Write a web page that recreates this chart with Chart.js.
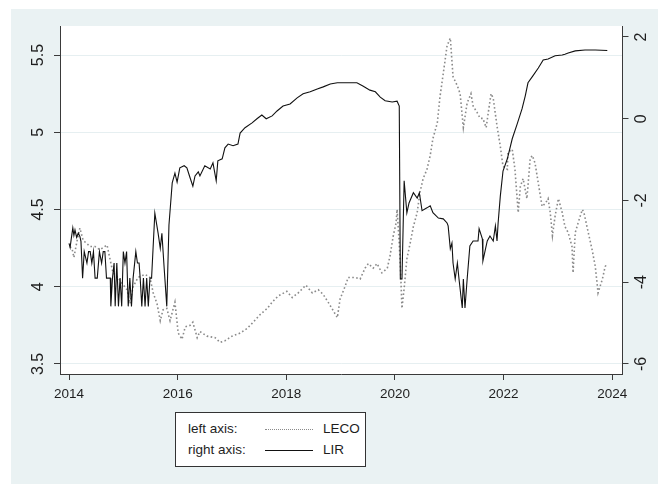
<!DOCTYPE html>
<html lang="en">
<head>
<meta charset="UTF-8">
<title>LECO and LIR</title>
<script src="https://cdn.jsdelivr.net/npm/chart.js@4.4.1/dist/chart.umd.min.js"></script>
<style>
  body { margin: 0; background: #fff; }
  #wrap { position: relative; width: 658px; height: 484px; }
  #legend {
    position: absolute; left: 175px; top: 412px; width: 189px; height: 53px;
    background: #fff; border: 1px solid #333;
    font: 13.5px "Liberation Sans", Arial, sans-serif; color: #1e1e1e;
  }
  #legend .row { position: absolute; left: 0; height: 18px; line-height: 18px; width: 100%; }
  #legend .lab { position: absolute; left: 12px; }
  #legend .key { position: absolute; left: 89px; width: 48px; top: 9px; }
  #legend .name { position: absolute; left: 147px; }
</style>
</head>
<body>
<div id="wrap">
  <canvas id="chart" width="658" height="484"></canvas>
  <div id="legend"></div>
</div>

<script>
// LIR - right axis (solid)
var lirYears = [2014.00, 2014.02, 2014.04, 2014.07, 2014.09, 2014.11, 2014.14, 2014.17, 2014.20, 2014.22,
  2014.25, 2014.28, 2014.33, 2014.36, 2014.39, 2014.42, 2014.45, 2014.48, 2014.52, 2014.56,
  2014.60, 2014.63, 2014.66, 2014.69, 2014.76, 2014.77, 2014.80, 2014.83, 2014.85, 2014.88,
  2014.91, 2014.94, 2014.97, 2015.00, 2015.03, 2015.06, 2015.09, 2015.12, 2015.15, 2015.18,
  2015.23, 2015.26, 2015.29, 2015.31, 2015.34, 2015.37, 2015.40, 2015.43, 2015.46, 2015.49,
  2015.52, 2015.58, 2015.64, 2015.68, 2015.71, 2015.75, 2015.80, 2015.84, 2015.90, 2015.95,
  2015.99, 2016.04, 2016.12, 2016.17, 2016.23, 2016.28, 2016.32, 2016.38, 2016.41, 2016.50,
  2016.60, 2016.65, 2016.71, 2016.74, 2016.82, 2016.87, 2016.93, 2017.02, 2017.11, 2017.15,
  2017.24, 2017.37, 2017.46, 2017.55, 2017.63, 2017.74, 2017.83, 2017.94, 2018.07, 2018.20,
  2018.31, 2018.44, 2018.57, 2018.68, 2018.81, 2018.94, 2019.12, 2019.30, 2019.41, 2019.54,
  2019.64, 2019.73, 2019.82, 2019.95, 2020.04, 2020.08, 2020.10, 2020.13, 2020.17, 2020.22,
  2020.26, 2020.34, 2020.41, 2020.45, 2020.50, 2020.59, 2020.65, 2020.70, 2020.80, 2020.89,
  2020.96, 2020.98, 2021.02, 2021.05, 2021.07, 2021.11, 2021.15, 2021.18, 2021.24, 2021.26,
  2021.29, 2021.33, 2021.38, 2021.44, 2021.53, 2021.55, 2021.61, 2021.62, 2021.70, 2021.75,
  2021.81, 2021.85, 2021.88, 2021.90, 2021.94, 2021.99, 2022.07, 2022.16, 2022.25, 2022.34,
  2022.40, 2022.45, 2022.54, 2022.64, 2022.73, 2022.82, 2022.95, 2023.08, 2023.13, 2023.19,
  2023.32, 2023.50, 2023.69, 2023.91];
var lirValues = [-3.05, -3.15, -2.95, -2.67, -2.85, -2.72, -2.90, -2.80, -2.88, -3.00,
  -3.90, -3.25, -3.53, -3.25, -3.25, -3.53, -3.25, -3.90, -3.90, -3.25,
  -3.53, -3.25, -3.25, -3.90, -3.90, -4.59, -3.90, -3.53, -4.59, -3.53,
  -4.59, -3.90, -4.59, -3.25, -3.53, -3.25, -4.59, -3.90, -4.59, -3.90,
  -3.25, -3.53, -3.53, -3.90, -4.59, -3.90, -4.59, -3.90, -4.59, -3.90,
  -3.90, -2.31, -2.80, -3.17, -2.80, -3.62, -4.59, -2.60, -1.57, -1.33,
  -1.55, -1.20, -1.15, -1.20, -1.45, -1.65, -1.40, -1.30, -1.40, -1.15,
  -1.23, -1.08, -1.52, -1.03, -0.98, -0.71, -0.62, -0.66, -0.62, -0.35,
  -0.22, -0.10, 0.00, 0.09, 0.00, 0.07, 0.19, 0.31, 0.36, 0.51,
  0.61, 0.66, 0.73, 0.78, 0.85, 0.88, 0.88, 0.88, 0.80, 0.70,
  0.66, 0.53, 0.44, 0.41, 0.43, 0.31, -3.92, -3.92, -1.52, -2.30,
  -2.06, -1.81, -1.94, -1.81, -2.25, -2.18, -2.13, -2.30, -2.43, -2.45,
  -2.55, -2.62, -3.18, -3.04, -3.53, -3.92, -3.53, -3.92, -4.63, -3.92,
  -4.63, -3.92, -3.11, -2.99, -2.99, -2.69, -2.94, -3.48, -2.99, -2.87,
  -2.99, -2.62, -2.99, -2.55, -1.90, -1.28, -0.98, -0.49, -0.13, 0.24,
  0.56, 0.88, 1.05, 1.24, 1.44, 1.46, 1.54, 1.56, 1.58, 1.61,
  1.66, 1.68, 1.68, 1.67];

// LECO - left axis (dotted)
var lecoYears = [2014.02, 2014.06, 2014.09, 2014.15, 2014.20, 2014.26, 2014.39, 2014.48, 2014.57, 2014.70,
  2014.76, 2014.81, 2014.90, 2014.98, 2015.07, 2015.12, 2015.18, 2015.27, 2015.40, 2015.49,
  2015.55, 2015.62, 2015.68, 2015.73, 2015.80, 2015.86, 2015.95, 2016.01, 2016.08, 2016.14,
  2016.23, 2016.28, 2016.36, 2016.41, 2016.54, 2016.69, 2016.78, 2016.87, 2017.00, 2017.15,
  2017.28, 2017.39, 2017.52, 2017.65, 2017.74, 2017.85, 2018.01, 2018.11, 2018.22, 2018.36,
  2018.48, 2018.59, 2018.68, 2018.77, 2018.84, 2018.94, 2018.99, 2019.08, 2019.14, 2019.27,
  2019.36, 2019.45, 2019.51, 2019.60, 2019.67, 2019.76, 2019.86, 2019.91, 2019.97, 2020.02,
  2020.04, 2020.08, 2020.11, 2020.13, 2020.17, 2020.22, 2020.28, 2020.34, 2020.41, 2020.46,
  2020.52, 2020.59, 2020.65, 2020.70, 2020.78, 2020.83, 2020.89, 2020.96, 2021.02, 2021.07,
  2021.15, 2021.20, 2021.26, 2021.33, 2021.40, 2021.44, 2021.51, 2021.57, 2021.62, 2021.68,
  2021.72, 2021.77, 2021.81, 2021.88, 2021.94, 2021.99, 2022.07, 2022.08, 2022.16, 2022.21,
  2022.27, 2022.31, 2022.36, 2022.43, 2022.49, 2022.53, 2022.58, 2022.64, 2022.71, 2022.77,
  2022.82, 2022.86, 2022.90, 2022.95, 2023.01, 2023.08, 2023.13, 2023.19, 2023.26, 2023.28,
  2023.32, 2023.37, 2023.45, 2023.48, 2023.56, 2023.63, 2023.69, 2023.74, 2023.82, 2023.87,
  2023.91];
var lecoValues = [4.26, 4.24, 4.19, 4.30, 4.38, 4.30, 4.26, 4.26, 4.24, 4.27,
  4.17, 4.09, 4.06, 4.02, 3.98, 3.89, 4.00, 4.06, 4.08, 4.06,
  3.96, 3.89, 3.78, 3.85, 3.86, 3.78, 3.90, 3.70, 3.66, 3.74,
  3.75, 3.77, 3.67, 3.71, 3.68, 3.67, 3.64, 3.65, 3.68, 3.70,
  3.73, 3.77, 3.82, 3.86, 3.90, 3.94, 3.97, 3.93, 3.96, 4.01,
  3.96, 3.98, 3.95, 3.90, 3.86, 3.80, 3.92, 4.00, 4.06, 4.06,
  4.05, 4.12, 4.15, 4.12, 4.15, 4.09, 4.12, 4.20, 4.33, 4.41,
  4.50, 4.28, 4.05, 3.86, 3.99, 4.18, 4.28, 4.39, 4.48, 4.61,
  4.70, 4.76, 4.85, 4.96, 5.06, 5.23, 5.38, 5.56, 5.61, 5.36,
  5.30, 5.25, 5.03, 5.19, 5.25, 5.17, 5.13, 5.09, 5.09, 5.03,
  5.13, 5.25, 5.22, 5.04, 4.91, 4.78, 4.76, 4.87, 4.89, 4.76,
  4.48, 4.65, 4.70, 4.57, 4.83, 4.85, 4.80, 4.67, 4.52, 4.54,
  4.57, 4.48, 4.33, 4.46, 4.57, 4.48, 4.39, 4.35, 4.26, 4.09,
  4.35, 4.41, 4.50, 4.48, 4.35, 4.24, 4.13, 3.96, 4.05, 4.13,
  4.15];

var xTicks = [2014, 2016, 2018, 2020, 2022, 2024];
var leftTicks = [3.5, 4, 4.5, 5, 5.5];
var rightTicks = [-6, -4, -2, 0, 2];

var fontFamily = '"Liberation Sans", Arial, sans-serif';
var axisColor = '#3a3a3a';
var textColor = '#1e1e1e';
var bgColor = '#eaf2f3';

function toPoints(xs, ys) {
  return xs.map(function (x, i) { return { x: x, y: ys[i] }; });
}

function fixedTicks(list) {
  return function (s) { s.ticks = list.map(function (v) { return { value: v }; }); };
}

// outer grey-blue panel, white plot region
var background = {
  id: 'background',
  beforeDraw: function (chart) {
    var ctx = chart.ctx, a = chart.chartArea;
    ctx.save();
    ctx.fillStyle = '#ffffff';
    ctx.fillRect(0, 0, chart.width, chart.height);
    ctx.fillStyle = bgColor;
    ctx.fillRect(11, 9, chart.width - 11, chart.height - 9);
    ctx.fillStyle = '#ffffff';
    ctx.fillRect(a.left, a.top, a.right - a.left, a.bottom - a.top);
    ctx.restore();
  }
};

var chart = new Chart(document.getElementById('chart').getContext('2d'), {
  type: 'line',
  data: {
    datasets: [
      {
        label: 'LECO',
        axisLabel: 'left axis:',
        data: toPoints(lecoYears, lecoValues),
        yAxisID: 'yLeft',
        borderColor: '#8a8a8a',
        borderWidth: 1.6,
        borderDash: [1.6, 2.4],
        pointRadius: 0,
        tension: 0,
        order: 1
      },
      {
        label: 'LIR',
        axisLabel: 'right axis:',
        data: toPoints(lirYears, lirValues),
        yAxisID: 'yRight',
        borderColor: '#111111',
        borderWidth: 1.1,
        pointRadius: 0,
        tension: 0,
        order: 0
      }
    ]
  },
  options: {
    responsive: false,
    devicePixelRatio: 1,
    animation: false,
    layout: { padding: { left: 11, top: 26, right: 0, bottom: 0 } },
    plugins: { legend: { display: false }, tooltip: { enabled: false } },
    scales: {
      x: {
        type: 'linear',
        min: 2013.834,
        max: 2024.19,
        afterBuildTicks: fixedTicks(xTicks),
        afterFit: function (s) { s.height = 110; },
        ticks: {
          color: textColor, padding: 6, maxRotation: 0,
          font: { family: fontFamily, size: 13.5 },
          callback: function (v) { return String(v); }
        },
        grid: { drawOnChartArea: false, tickLength: 6, tickColor: axisColor, tickWidth: 1 },
        border: { color: axisColor, width: 1 }
      },
      yLeft: {
        type: 'linear',
        position: 'left',
        min: 3.435,
        max: 5.688,
        afterBuildTicks: fixedTicks(leftTicks),
        afterFit: function (s) { s.width = 49; },
        ticks: {
          color: textColor, padding: 4, minRotation: 90, maxRotation: 90, crossAlign: 'center',
          font: { family: fontFamily, size: 16 },
          callback: function (v) { return String(v); }
        },
        grid: { color: '#e6eff1', lineWidth: 1, tickLength: 6, tickColor: axisColor, tickWidth: 1 },
        border: { color: axisColor, width: 1 }
      },
      yRight: {
        type: 'linear',
        position: 'right',
        min: -6.245,
        max: 2.269,
        afterBuildTicks: fixedTicks(rightTicks),
        afterFit: function (s) { s.width = 35.5; },
        ticks: {
          color: textColor, padding: 6, minRotation: 90, maxRotation: 90, crossAlign: 'center',
          font: { family: fontFamily, size: 16 },
          callback: function (v) { return String(v); }
        },
        grid: { drawOnChartArea: false, tickLength: 6, tickColor: axisColor, tickWidth: 1 },
        border: { color: axisColor, width: 1 }
      }
    }
  },
  plugins: [background]
});

// legend built from the datasets, in legend order (LECO then LIR)
var legend = document.getElementById('legend');
chart.data.datasets.forEach(function (ds, i) {
  var row = document.createElement('div');
  row.className = 'row';
  row.style.top = (7 + i * 21) + 'px';
  var key = ds.borderDash ? '1.5px dotted ' + ds.borderColor : '1px solid ' + ds.borderColor;
  row.innerHTML = '<span class="lab">' + ds.axisLabel + '</span>' +
    '<span class="key" style="border-top:' + key + '"></span>' +
    '<span class="name">' + ds.label + '</span>';
  legend.appendChild(row);
});
</script>
</body>
</html>
